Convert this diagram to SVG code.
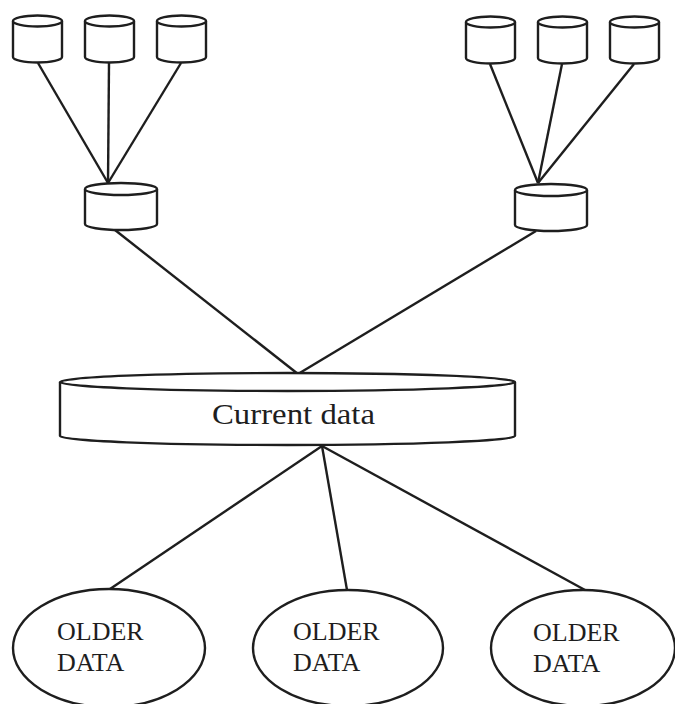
<svg xmlns="http://www.w3.org/2000/svg" width="675" height="704" viewBox="0 0 675 704">
  <defs>
    <style>
      .shape { fill: #ffffff; stroke: #1e1e1e; stroke-width: 2.4; }
      .edge { stroke: #1e1e1e; stroke-width: 2.4; fill: none; }
      .lbl { font-family: "Liberation Serif", "Times New Roman", serif; fill: #1e1e1e; }
    </style>
    <!-- small store: 49 wide, top ellipse at y=6, body down to y=42 -->
    <g id="smallDb">
      <path class="shape" d="M0,6 L0,42 A24.5,5.5 0 0 0 49,42 L49,6"/>
      <ellipse class="shape" cx="24.5" cy="6" rx="24.5" ry="5.5"/>
    </g>
    <!-- medium store: 72 wide -->
    <g id="midDb">
      <path class="shape" d="M0,6 L0,41 A36,6 0 0 0 72,41 L72,6"/>
      <ellipse class="shape" cx="36" cy="6" rx="36" ry="6"/>
    </g>
  </defs>

  <rect width="675" height="704" fill="#ffffff"/>

  <g id="connectors">
    <!-- left source stores to left staging store -->
    <line class="edge" x1="38" y1="63" x2="108" y2="183"/>
    <line class="edge" x1="109" y1="63" x2="108" y2="183"/>
    <line class="edge" x1="181" y1="63" x2="108" y2="183"/>
    <!-- right source stores to right staging store -->
    <line class="edge" x1="490" y1="64" x2="538" y2="183"/>
    <line class="edge" x1="562" y1="64" x2="538" y2="183"/>
    <line class="edge" x1="634" y1="64" x2="538" y2="183"/>
    <!-- staging stores to current data -->
    <line class="edge" x1="115" y1="230" x2="298" y2="374"/>
    <line class="edge" x1="536" y1="231" x2="298" y2="374"/>
    <!-- current data to archives -->
    <line class="edge" x1="322" y1="446" x2="110" y2="589"/>
    <line class="edge" x1="322" y1="446" x2="347" y2="590"/>
    <line class="edge" x1="322" y1="446" x2="585" y2="590"/>
  </g>

  <g id="src-l1"><use href="#smallDb" x="13" y="15"/></g>
  <g id="src-l2"><use href="#smallDb" x="85" y="15"/></g>
  <g id="src-l3"><use href="#smallDb" x="157" y="15"/></g>
  <g id="src-r1"><use href="#smallDb" x="466" y="16"/></g>
  <g id="src-r2"><use href="#smallDb" x="538" y="16"/></g>
  <g id="src-r3"><use href="#smallDb" x="610" y="16"/></g>

  <g id="stage-l"><use href="#midDb" x="85" y="183"/></g>
  <g id="stage-r"><use href="#midDb" x="515" y="184"/></g>

  <g id="current">
    <path class="shape" d="M60,382 L60,436 A227.5,9 0 0 0 515,436 L515,382"/>
    <ellipse class="shape" cx="287.5" cy="382" rx="227.5" ry="9"/>
    <text class="lbl" x="212" y="424" font-size="29" textLength="163" lengthAdjust="spacingAndGlyphs">Current data</text>
  </g>

  <g id="older-1">
    <ellipse class="shape" cx="109" cy="648" rx="96" ry="59"/>
    <text class="lbl" x="57" y="640" font-size="26">OLDER</text>
    <text class="lbl" x="57" y="671" font-size="26">DATA</text>
  </g>
  <g id="older-2">
    <ellipse class="shape" cx="348" cy="648" rx="95" ry="58"/>
    <text class="lbl" x="293" y="640" font-size="26">OLDER</text>
    <text class="lbl" x="293" y="671" font-size="26">DATA</text>
  </g>
  <g id="older-3">
    <ellipse class="shape" cx="583" cy="648" rx="92" ry="58"/>
    <text class="lbl" x="533" y="641" font-size="26">OLDER</text>
    <text class="lbl" x="533" y="672" font-size="26">DATA</text>
  </g>
</svg>
